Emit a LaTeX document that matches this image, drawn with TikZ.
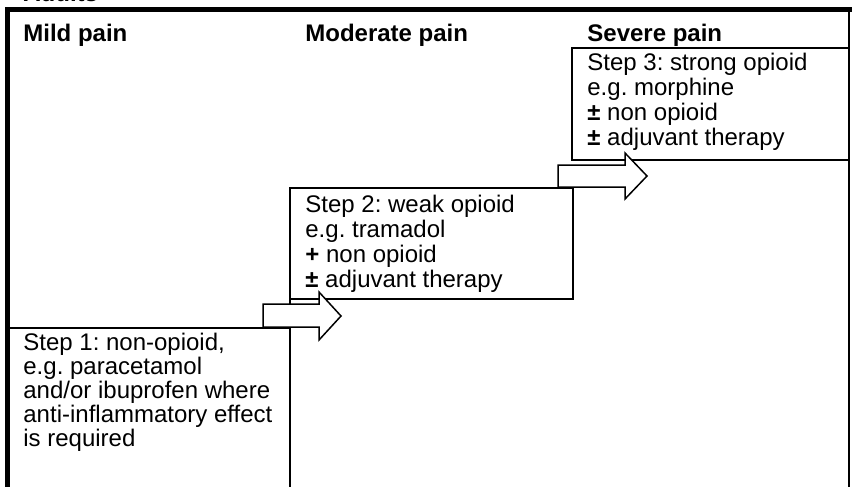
\documentclass[tikz,border=0pt]{standalone}
\usepackage{fontspec}
\setmainfont{Liberation Sans}
\frenchspacing
\newcommand\headfont{\fontsize{12}{12}\selectfont\bfseries}
\newcommand\stepfont{\fontsize{12}{12}\selectfont}

\begin{document}
\begin{tikzpicture}[x=0.5pt,y=-0.5pt,
        frame/.style={line width=2.2pt},
        box/.style={line width=1pt},
        blockarrow/.style={draw,fill=white,line width=0.75pt,line join=miter},
        head/.style={font=\headfont,anchor=base west,inner sep=0pt},
        steptext/.style={font=\stepfont,anchor=base west,inner sep=0pt}]
        \useasboundingbox (0,0) rectangle (852,487);
        \clip (0,0) rectangle (852,487);

        % Outer frame, thick at top and left
        \draw[frame] (852,9.5) -- (7.5,9.5) -- (7.5,495);
        \draw[box] (849,9.5) -- (849,495);

        % Step boxes
        \draw[box] (7.5,328) -- (290,328) -- (290,495);
        \draw[box] (290,328) -- (290,188) -- (573,188) -- (573,299) -- (290,299);
        \draw[box] (849,48) -- (572,48) -- (572,160) -- (849,160);

        % Block arrows between the steps
        \draw[blockarrow] (263,304) -- (319,304) -- (319,292) -- (341,316)
            -- (319,340) -- (319,327) -- (263,327) -- cycle;
        \draw[blockarrow] (558,165) -- (625,165) -- (625,153) -- (647,176)
            -- (625,199) -- (625,187) -- (558,187) -- cycle;

        % Column headings
        \node[head] (adults) at (23,1.5) {Adults};
        \node[head] (mild) at (23,41) {Mild pain};
        \node[head] (moderate) at (305,41) {Moderate pain};
        \node[head] (severe) at (587,41) {Severe pain};

        % Step texts, one node per line
        \foreach \txt [count=\i from 0] in {{Step 1: non-opioid,},
                {e.g. paracetamol}, {and/or ibuprofen where},
                {anti-inflammatory effect}, {is required}}
            \node[steptext] (step1-\i) at (23,350+24*\i) {\txt};
        \foreach \txt [count=\i from 0] in {{Step 2: weak opioid},
                {e.g. tramadol}, {\textbf{+} non opioid},
                {\textbf{±} adjuvant therapy}}
            \node[steptext] (step2-\i) at (305,212+25*\i) {\txt};
        \foreach \txt [count=\i from 0] in {{Step 3: strong opioid},
                {e.g. morphine}, {\textbf{±} non opioid},
                {\textbf{±} adjuvant therapy}}
            \node[steptext] (step3-\i) at (587,70+25*\i) {\txt};
    \end{tikzpicture}
\end{document}
